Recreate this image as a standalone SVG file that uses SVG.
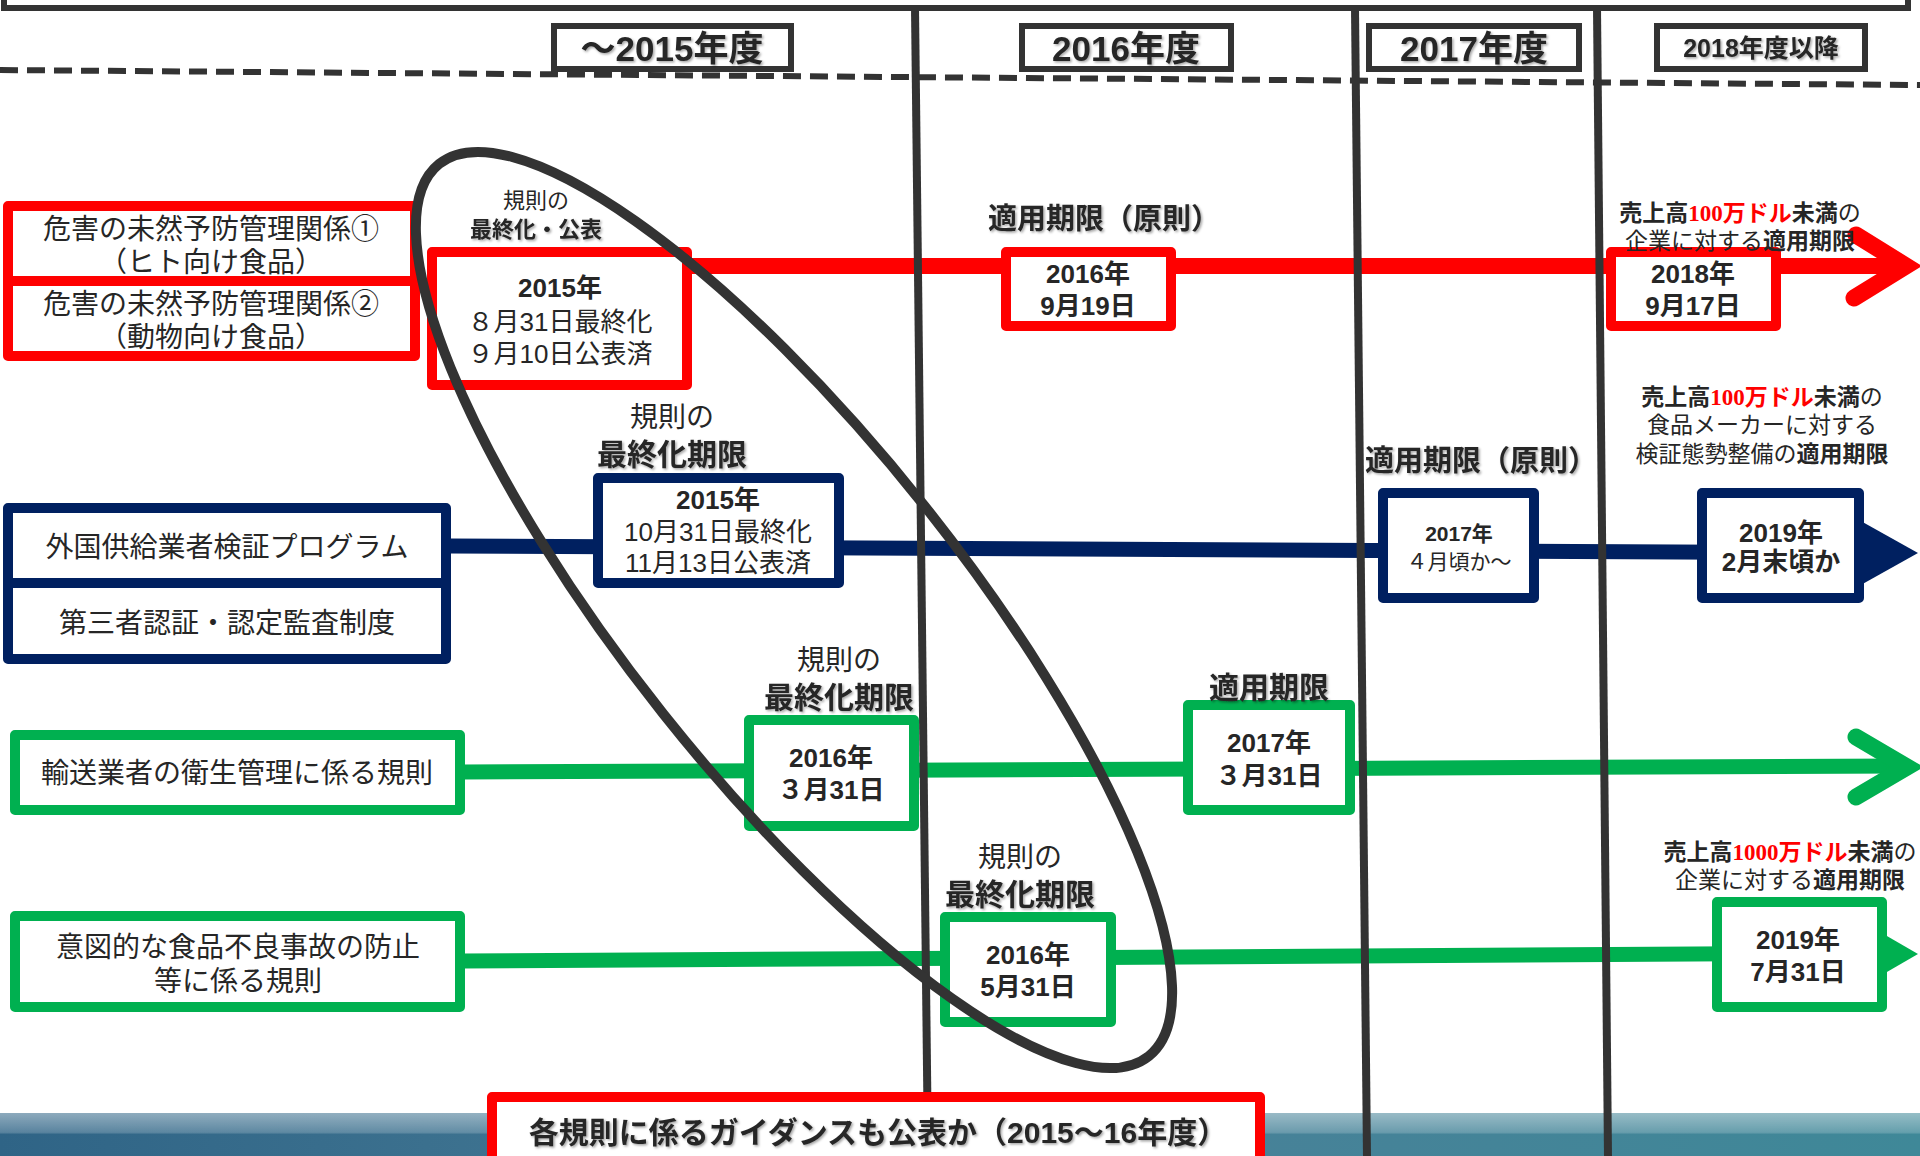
<svg xmlns="http://www.w3.org/2000/svg" width="1920" height="1156" viewBox="0 0 1920 1156">
<defs>
<linearGradient id="band" x1="0" y1="0" x2="1" y2="0">
<stop offset="0" stop-color="#2f6486"/>
<stop offset="0.5" stop-color="#4a7f98"/>
<stop offset="1" stop-color="#3f8898"/>
</linearGradient>
<linearGradient id="bandHi" x1="0" y1="0" x2="0" y2="1">
<stop offset="0" stop-color="#ffffff" stop-opacity="0.45"/>
<stop offset="0.45" stop-color="#ffffff" stop-opacity="0.2"/>
<stop offset="0.5" stop-color="#ffffff" stop-opacity="0"/>
<stop offset="1" stop-color="#ffffff" stop-opacity="0"/>
</linearGradient>
<filter id="sh" x="-10%" y="-30%" width="120%" height="160%">
<feDropShadow dx="1.5" dy="1.5" stdDeviation="1" flood-color="#000" flood-opacity="0.35"/>
</filter>
<style>
.t{font-family:"Liberation Sans","Noto Sans CJK JP",sans-serif;fill:#262626;text-anchor:middle;dominant-baseline:central}
.b{font-weight:bold}
.hd{font-size:35px;font-weight:bold}
.lb{font-size:28px}
.dt{font-size:26px;font-weight:bold}
.bx{font-size:26px}
.sm{font-size:22px}
.rt{font-size:23px}
.red{fill:#FF0000;font-weight:bold}
.num{font-family:"Liberation Serif",serif;font-weight:bold}
.hbox{fill:#fff;stroke:#333;stroke-width:6}
.rbox{fill:#fff;stroke:#FF0000;stroke-width:10;stroke-linejoin:round}
.nbox{fill:#fff;stroke:#002060;stroke-width:10;stroke-linejoin:round}
.gbox{fill:#fff;stroke:#00B050;stroke-width:10;stroke-linejoin:round}
.vl{stroke:#333;stroke-width:8;fill:none}
</style>
</defs>
<rect width="1920" height="1156" fill="#fff"/>
<!-- bottom band -->
<rect x="0" y="1113" width="1920" height="43" fill="url(#band)"/>
<rect x="0" y="1113" width="1920" height="43" fill="url(#bandHi)"/>
<!-- top frame -->
<path d="M4,0 V8 H1908 V0" fill="none" stroke="#333" stroke-width="6"/>
<!-- dashed line -->
<line x1="0" y1="70" x2="1920" y2="85" stroke="#333" stroke-width="6" stroke-dasharray="18 9"/>
<!-- year headers -->
<g id="h2015"><rect class="hbox" x="554" y="26" width="237" height="43"/><text class="t hd" x="672" y="48" filter="url(#sh)">～2015年度</text></g>
<g id="h2016"><rect class="hbox" x="1022" y="26" width="209" height="43"/><text class="t hd" x="1126" y="48" filter="url(#sh)">2016年度</text></g>
<g id="h2017"><rect class="hbox" x="1369" y="26" width="210" height="43"/><text class="t hd" x="1474" y="48" filter="url(#sh)">2017年度</text></g>
<g id="h2018"><rect class="hbox" x="1657" y="26" width="208" height="43"/><text class="t b" x="1761" y="48" font-size="25" filter="url(#sh)">2018年度以降</text></g>
<!-- connectors -->
<g id="connectors">
<line x1="690" y1="266" x2="1904" y2="266" stroke="#FF0000" stroke-width="16"/>
<polyline points="1856,235 1906,266 1854,298" fill="none" stroke="#FF0000" stroke-width="17" stroke-linecap="round" stroke-linejoin="miter"/>
<line x1="449" y1="546" x2="1865" y2="553" stroke="#002060" stroke-width="15"/>
<polygon points="1859,520 1918,553 1859,586" fill="#002060"/>
<line x1="463" y1="772" x2="1904" y2="766" stroke="#00B050" stroke-width="15"/>
<polyline points="1856,737 1907,767 1856,797" fill="none" stroke="#00B050" stroke-width="17" stroke-linecap="round" stroke-linejoin="miter"/>
<line x1="463" y1="961" x2="1885" y2="953" stroke="#00B050" stroke-width="15"/>
<polygon points="1880,932 1918,954 1880,976" fill="#00B050"/>
</g>
<!-- red row -->
<g id="red-left">
<rect class="rbox" x="8" y="206" width="407" height="150"/>
<line x1="8" y1="281" x2="415" y2="281" stroke="#FF0000" stroke-width="10"/>
<text class="t lb" x="211" y="229">危害の未然予防管理関係①</text>
<text class="t lb" x="211" y="262">（ヒト向け食品）</text>
<text class="t lb" x="211" y="304">危害の未然予防管理関係②</text>
<text class="t lb" x="211" y="337">（動物向け食品）</text>
</g>
<g id="red-2015">
<rect class="rbox" x="432" y="252" width="255" height="133"/>
<text class="t dt" x="560" y="288">2015年</text>
<text class="t bx" x="560" y="322">８月31日最終化</text>
<text class="t bx" x="560" y="354">９月10日公表済</text>
<text class="t sm" x="536" y="200">規則の</text>
<text class="t sm b" x="536" y="229" filter="url(#sh)">最終化・公表</text>
</g>
<g id="red-2016">
<rect class="rbox" x="1006" y="252" width="165" height="74"/>
<text class="t dt" x="1088" y="274">2016年</text>
<text class="t dt" x="1088" y="306">9月19日</text>
<text class="t b" x="1104" y="219" font-size="29" filter="url(#sh)">適用期限（原則）</text>
</g>
<g id="red-2018">
<rect class="rbox" x="1611" y="252" width="165" height="74"/>
<text class="t dt" x="1693" y="274">2018年</text>
<text class="t dt" x="1693" y="306">9月17日</text>
<text class="t rt" x="1740" y="213"><tspan class="b">売上高</tspan><tspan class="red num">100</tspan><tspan class="red">万ドル</tspan><tspan class="b">未満</tspan>の</text>
<text class="t rt" x="1740" y="241">企業に対する<tspan class="b">適用期限</tspan></text>
</g>
<!-- navy row -->
<g id="navy-left">
<rect class="nbox" x="8" y="508" width="438" height="151"/>
<line x1="8" y1="583" x2="446" y2="583" stroke="#002060" stroke-width="10"/>
<text class="t lb" x="227" y="547">外国供給業者検証プログラム</text>
<text class="t lb" x="227" y="623">第三者認証・認定監査制度</text>
</g>
<g id="navy-2015">
<rect class="nbox" x="598" y="478" width="241" height="105"/>
<text class="t dt" x="718" y="500">2015年</text>
<text class="t bx" x="718" y="532">10月31日最終化</text>
<text class="t bx" x="718" y="563">11月13日公表済</text>
<text class="t lb" x="672" y="417">規則の</text>
<text class="t b" x="672" y="454" font-size="30" filter="url(#sh)">最終化期限</text>
</g>
<g id="navy-2017">
<rect class="nbox" x="1383" y="493" width="151" height="105"/>
<text class="t b" x="1459" y="533" font-size="21">2017年</text>
<text class="t" x="1459" y="561" font-size="21">４月頃か～</text>
<text class="t b" x="1481" y="461" font-size="29" filter="url(#sh)">適用期限（原則）</text>
</g>
<g id="navy-2019">
<rect class="nbox" x="1702" y="493" width="157" height="105"/>
<text class="t dt" x="1781" y="533">2019年</text>
<text class="t dt" x="1781" y="562">2月末頃か</text>
<text class="t rt" x="1762" y="397"><tspan class="b">売上高</tspan><tspan class="red num">100</tspan><tspan class="red">万ドル</tspan><tspan class="b">未満</tspan>の</text>
<text class="t rt" x="1762" y="425">食品メーカーに対する</text>
<text class="t rt" x="1762" y="454">検証態勢整備の<tspan class="b">適用期限</tspan></text>
</g>
<!-- green row 1 -->
<g id="green1-left">
<rect class="gbox" x="15" y="735" width="445" height="75"/>
<text class="t lb" x="237" y="773">輸送業者の衛生管理に係る規則</text>
</g>
<g id="green1-2016">
<rect class="gbox" x="749" y="720" width="165" height="106"/>
<text class="t dt" x="831" y="758">2016年</text>
<text class="t dt" x="831" y="790">３月31日</text>
<text class="t lb" x="839" y="660">規則の</text>
<text class="t b" x="839" y="697" font-size="30" filter="url(#sh)">最終化期限</text>
</g>
<g id="green1-2017">
<rect class="gbox" x="1188" y="705" width="162" height="105"/>
<text class="t dt" x="1269" y="743">2017年</text>
<text class="t dt" x="1269" y="776">３月31日</text>
<text class="t b" x="1269" y="687" font-size="30" filter="url(#sh)">適用期限</text>
</g>
<!-- green row 2 -->
<g id="green2-left">
<rect class="gbox" x="15" y="916" width="445" height="91"/>
<text class="t lb" x="238" y="947">意図的な食品不良事故の防止</text>
<text class="t lb" x="238" y="981">等に係る規則</text>
</g>
<g id="green2-2016">
<rect class="gbox" x="945" y="917" width="166" height="105"/>
<text class="t dt" x="1028" y="955">2016年</text>
<text class="t dt" x="1028" y="987">5月31日</text>
<text class="t lb" x="1020" y="857">規則の</text>
<text class="t b" x="1020" y="894" font-size="30" filter="url(#sh)">最終化期限</text>
</g>
<g id="green2-2019">
<rect class="gbox" x="1717" y="902" width="165" height="105"/>
<text class="t dt" x="1798" y="940">2019年</text>
<text class="t dt" x="1798" y="972">7月31日</text>
<text class="t rt" x="1790" y="852"><tspan class="b">売上高</tspan><tspan class="red num">1000</tspan><tspan class="red">万ドル</tspan><tspan class="b">未満</tspan>の</text>
<text class="t rt" x="1790" y="880">企業に対する<tspan class="b">適用期限</tspan></text>
</g>
<!-- fiscal year dividers -->
<g id="dividers">
<line class="vl" x1="915" y1="8" x2="928" y2="1156"/>
<line class="vl" x1="1355" y1="8" x2="1367" y2="1156"/>
<line class="vl" x1="1597" y1="8" x2="1608" y2="1156"/>
</g>
<!-- ellipse -->
<g id="ellipse">
<ellipse cx="794" cy="610" rx="570" ry="167" transform="rotate(51.5 794 610)" fill="none" stroke="#333" stroke-width="10"/>
</g>
<!-- bottom note -->
<g id="guidance">
<rect class="rbox" x="492" y="1097" width="768" height="75"/>
<text class="t b" x="878" y="1132" font-size="30" filter="url(#sh)">各規則に係るガイダンスも公表か（2015～16年度）</text>
</g>
</svg>
